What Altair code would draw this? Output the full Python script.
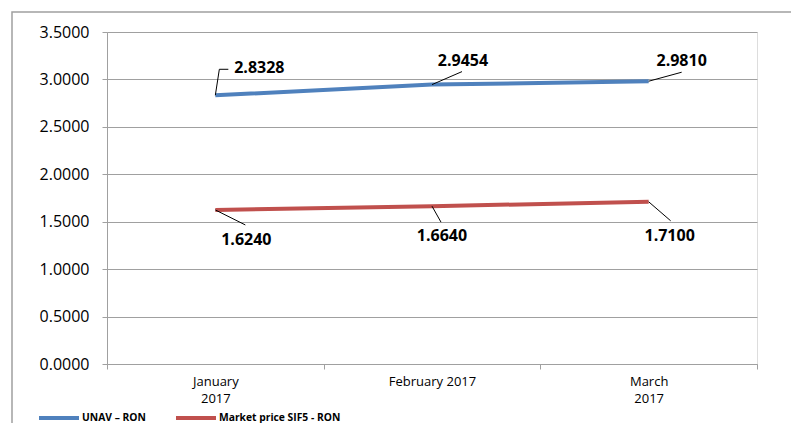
import json
import altair as alt
import pandas as pd

# ---- data ----
months = ["January 2017", "February 2017", "March 2017"]
month_tick_labels = [["January", "2017"], ["February 2017"], ["March", "2017"]]
series_names = ["UNAV – RON", "Market price SIF5 - RON"]
unav_values = [2.8328, 2.9454, 2.9810]
market_values = [1.6240, 1.6640, 1.7100]
y_tick_values = [0.0, 0.5, 1.0, 1.5, 2.0, 2.5, 3.0, 3.5]

# ---- styles ----
series_colors = ["#4F81BD", "#C0504D"]
grid_color = "#A0A0A0"
W, H = 650, 332
# label offsets (px) per series / month index
label_offsets = {
    (0, 0): (44, -27), (0, 1): (31, -24), (0, 2): (33, -20),
    (1, 0): (31, 30), (1, 1): (10, 30), (1, 2): (21, 34),
}
# leader line segments (px): (xOffset, yOffset, x2Offset, y2Offset)
leader_segments = {
    (0, 0): [(0, 0, 4, -26), (4, -26, 13, -26)],
    (0, 1): [(0, 0, 30, -13)],
    (0, 2): [(0, 0, 33, -9)],
    (1, 0): [(0, 0, 30, 15)],
    (1, 1): [(0, 0, 9, 16)],
    (1, 2): [(0, 0, 22, 19)],
}

rows = []
for s, vals in zip(series_names, [unav_values, market_values]):
    for m, v in zip(months, vals):
        rows.append({"month": m, "series": s, "value": v})
df = pd.DataFrame(rows)

label_map = json.dumps(dict(zip(months, month_tick_labels)))

x_enc = alt.X(
    "month:N",
    sort=months,
    scale=alt.Scale(type="band", paddingInner=0, paddingOuter=0, domain=months),
    axis=alt.Axis(
        title=None,
        labelExpr=f"{label_map}[datum.value]",
        labelAngle=0,
        tickBand="extent",
        grid=False,
        domainColor=grid_color,
        tickColor=grid_color,
        tickSize=5,
        labelFont="Open Sans",
        labelFontSize=13,
        labelColor="#000000",
        labelBaseline="top",
        labelPadding=6,
        labelLineHeight=17,
        labelAlign="center",
    ),
)
y_enc = alt.Y(
    "value:Q",
    scale=alt.Scale(domain=[0, 3.5], nice=False),
    axis=alt.Axis(
        title=None,
        values=y_tick_values,
        format=".4f",
        grid=True,
        gridColor=grid_color,
        domainColor=grid_color,
        tickColor=grid_color,
        tickSize=5,
        labelPadding=13,
        labelFont="Open Sans",
        labelFontSize=16,
        labelColor="#000000",
    ),
)

base = alt.Chart(df)

border = alt.Chart(alt.Data(values=[{}])).mark_rect(
    fill=None, stroke=grid_color, strokeWidth=1.5
).encode(
    x=alt.value(-95), x2=alt.value(688), y=alt.value(-20), y2=alt.value(430)
)

lines = base.mark_line(strokeWidth=4, strokeCap="butt").encode(
    x=x_enc,
    y=y_enc,
    color=alt.Color(
        "series:N",
        scale=alt.Scale(domain=series_names, range=series_colors),
        legend=alt.Legend(
            title=None,
            orient="none",
            legendX=-70,
            legendY=364,
            direction="horizontal",
            symbolType="M-1,0H1",
            symbolSize=1600,
            symbolStrokeWidth=4,
            labelFont="Open Sans",
            labelFontSize=10.3,
            labelFontWeight="bold",
            labelColor="#000000",
            labelOffset=1,
            columnPadding=22,
        ),
    ),
)

layers = [border, lines]
for (si, mi), (dx, dy) in label_offsets.items():
    s, m = series_names[si], months[mi]
    flt = f"datum.series == '{s}' && datum.month == '{m}'"
    sub = base.transform_filter(flt)
    for (xo, yo, x2o, y2o) in leader_segments[(si, mi)]:
        layers.append(
            sub.mark_rule(
                color="#000000", strokeWidth=1,
                xOffset=xo, yOffset=yo, x2Offset=x2o, y2Offset=y2o,
            ).encode(
                x=alt.X("month:N", sort=months),
                x2="month:N",
                y="value:Q",
                y2="value:Q",
            )
        )
    layers.append(
        sub.mark_text(
            dx=dx, dy=dy, font="Open Sans", fontSize=16, fontWeight="bold",
            color="#000000", align="center", baseline="middle",
        ).encode(
            x=alt.X("month:N", sort=months),
            y="value:Q",
            text=alt.Text("value:Q", format=".4f"),
        )
    )

chart = alt.layer(*layers).properties(
    width=W,
    height=H,
    padding={"left": 99, "top": 24, "right": 34, "bottom": 70},
    autosize=alt.AutoSizeParams(type="none"),
).configure_view(stroke=None).configure(background="#ffffff")

chart.save("out.html", embed_options={"renderer": "svg", "actions": False})
